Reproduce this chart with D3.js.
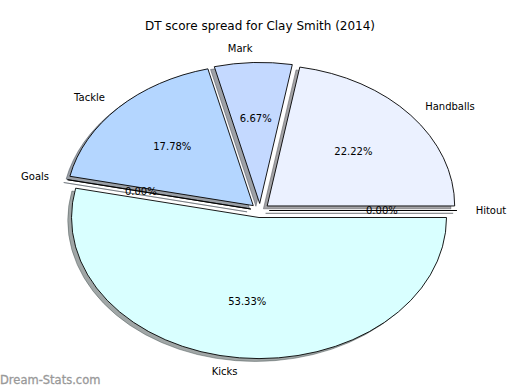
<!DOCTYPE html>
<html>
<head>
<meta charset="utf-8">
<script src="https://cdn.jsdelivr.net/npm/d3@7"></script>
<style>
  body { margin: 0; background: #fff; }
  text { font-family: "DejaVu Sans", sans-serif; }
</style>
</head>
<body>
<svg id="chart" width="520" height="390"></svg>
<script>
// slices, counter-clockwise from 3 o'clock
var labels = ['Handballs', 'Mark', 'Tackle', 'Goals', 'Kicks', 'Hitout'];
var values = [22.22, 6.67, 17.78, 0, 53.33, 0];
var colors = ['#ebf1ff', '#c4d9ff', '#b4d6ff', '#c9e4ff', '#d9ffff', '#dde8ff'];

var W = 520, H = 390;
var cx = 260, cy = 210.5, rx = 187.5, ry = 141;
var explode = 0.05, labelDist = 1.1, pctDist = 0.6;

var svg = d3.select('#chart');

// unit circle -> stretched ellipse
var x = d3.scaleLinear().domain([-1, 1]).range([cx - rx, cx + rx]);
var y = d3.scaleLinear().domain([-1, 1]).range([cy + ry, cy - ry]);

var pie = d3.pie().sort(null).value(function (d) { return d; })
    .startAngle(Math.PI / 2).endAngle(Math.PI / 2 - 2 * Math.PI);
var arcs = pie(values);

var arc = d3.arc().innerRadius(0).outerRadius(1);

// matplotlib-like angle (radians, ccw from +x) of the middle of a slice
function midTheta(d) {
    return Math.PI / 2 - (d.startAngle + d.endAngle) / 2;
}

var unit = svg.append('g')
    .attr('transform', 'translate(' + x(0) + ',' + y(0) + ') scale(' + (x(1) - x(0)) + ',' + (y(0) - y(1)) + ')');

function shadowColor(c) {
    var r = d3.rgb(c);
    return d3.rgb(r.r * 0.3, r.g * 0.3, r.b * 0.3).toString();
}

// shadows first, under every wedge
unit.selectAll('path.shadow')
    .data(arcs).enter()
    .append('path')
    .attr('class', 'shadow')
    .attr('d', arc)
    .attr('transform', function (d) {
        var t = midTheta(d);
        return 'translate(' + (explode * Math.cos(t) - 0.02) + ',' + (-explode * Math.sin(t) + 0.02) + ')';
    })
    .attr('fill', function (d, i) { return shadowColor(colors[i]); })
    .attr('fill-opacity', 0.5)
    .attr('stroke', function (d, i) { return shadowColor(colors[i]); })
    .attr('stroke-opacity', 0.5)
    .attr('stroke-width', 0.9)
    .attr('vector-effect', 'non-scaling-stroke');

unit.selectAll('path.wedge')
    .data(arcs).enter()
    .append('path')
    .attr('class', 'wedge')
    .attr('d', arc)
    .attr('transform', function (d) {
        var t = midTheta(d);
        return 'translate(' + (explode * Math.cos(t)) + ',' + (-explode * Math.sin(t)) + ')';
    })
    .attr('fill', function (d, i) { return colors[i]; })
    .attr('stroke', '#000')
    .attr('stroke-width', 0.9)
    .attr('stroke-linejoin', 'miter')
    .attr('vector-effect', 'non-scaling-stroke');

// outer labels
svg.selectAll('text.lbl')
    .data(arcs).enter()
    .append('text')
    .attr('class', 'lbl')
    .attr('x', function (d) { return x((explode + labelDist) * Math.cos(midTheta(d))); })
    .attr('y', function (d) { return y((explode + labelDist) * Math.sin(midTheta(d))); })
    .attr('dy', '0.35em')
    .attr('text-anchor', function (d) { return Math.cos(midTheta(d)) > 0 ? 'start' : 'end'; })
    .attr('font-size', 10)
    .attr('fill', '#000')
    .text(function (d, i) { return labels[i]; });

// percentages
svg.selectAll('text.pct')
    .data(arcs).enter()
    .append('text')
    .attr('class', 'pct')
    .attr('x', function (d) { return x((explode + pctDist) * Math.cos(midTheta(d))); })
    .attr('y', function (d) { return y((explode + pctDist) * Math.sin(midTheta(d))); })
    .attr('dy', '0.35em')
    .attr('text-anchor', 'middle')
    .attr('font-size', 10)
    .attr('fill', '#000')
    .text(function (d) { return d.value.toFixed(2) + '%'; });

svg.append('text')
    .attr('x', W / 2)
    .attr('y', 30)
    .attr('text-anchor', 'middle')
    .attr('font-size', 12)
    .attr('fill', '#000')
    .text('DT score spread for Clay Smith (2014)');

svg.append('text')
    .attr('x', 0)
    .attr('y', 384)
    .attr('font-size', 11.5)
    .attr('fill', '#999')
    .attr('stroke', '#999')
    .attr('stroke-width', 0.3)
    .text('Dream-Stats.com');
</script>
</body>
</html>
